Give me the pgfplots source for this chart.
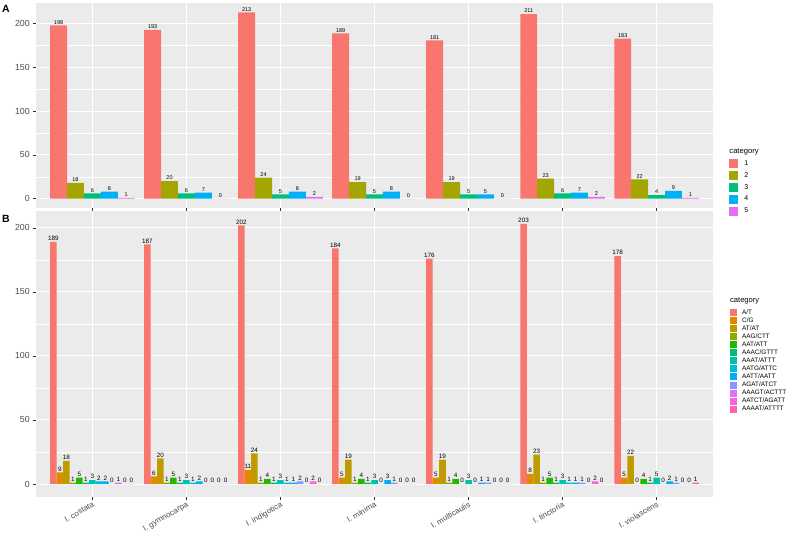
\documentclass[border=0pt]{standalone}
\usepackage{pgfplots}
\pgfplotsset{compat=1.18}
\usepackage{pgfplotstable}
\usepackage{fontspec}
\setmainfont{Liberation Sans}

% ggplot2 default look
\definecolor{panelgrey}{HTML}{EBEBEB}
\definecolor{tickgrey}{HTML}{333333}
\definecolor{labgrey}{HTML}{4D4D4D}
% five-class hue palette
\definecolor{ka}{HTML}{F8766D}
\definecolor{kb}{HTML}{A3A500}
\definecolor{kc}{HTML}{00BF7D}
\definecolor{kd}{HTML}{00B0F6}
\definecolor{ke}{HTML}{E76BF3}
% thirteen-class hue palette
\definecolor{m1}{HTML}{F8766D}
\definecolor{m2}{HTML}{E18A00}
\definecolor{m3}{HTML}{BE9C00}
\definecolor{m4}{HTML}{8CAB00}
\definecolor{m5}{HTML}{24B700}
\definecolor{m6}{HTML}{00BE70}
\definecolor{m7}{HTML}{00C1AB}
\definecolor{m8}{HTML}{00BBDA}
\definecolor{m9}{HTML}{00ACFC}
\definecolor{m10}{HTML}{8B93FF}
\definecolor{m11}{HTML}{D575FE}
\definecolor{m12}{HTML}{F962DD}
\definecolor{m13}{HTML}{FF65AC}

% SSR counts by repeat-unit length (1 = mono ... 5 = penta)
\pgfplotstableread{
x c1 c2 c3 c4 c5
1 198 18 6 8 1
2 193 20 6 7 0
3 213 24 5 8 2
4 189 19 5 8 0
5 181 19 5 5 0
6 211 23 6 7 2
7 183 22 4 9 1
}\classA

% SSR counts by repeat motif
\pgfplotstableread{
x AT CG ATAT AAG AAT AAAC AAAT AATG AATT AGAT AAAGT AATCT AAAAT
1 189 9 18 1 5 1 3 2 2 0 1 0 0
2 187 6 20 1 5 1 3 1 2 0 0 0 0
3 202 11 24 1 4 1 3 1 1 2 0 2 0
4 184 5 19 1 4 1 3 0 3 1 0 0 0
5 176 5 19 1 4 0 3 0 1 1 0 0 0
6 203 8 23 1 5 1 3 1 1 1 0 2 0
7 178 5 22 0 4 1 5 0 2 1 0 0 1
}\classB

\pgfplotsset{
  ggpanel/.style={
    scale only axis, anchor=south west,
    width=677pt,
    xmin=0.4, xmax=7.6, xtick={1,...,7},
    ytick={0,50,100,150,200}, minor ytick={25,75,125,175},
    grid=both,
    major grid style={white, line width=1pt},
    minor grid style={white, line width=0.5pt},
    axis background/.style={fill=panelgrey},
    axis line style={draw=none},
    tick pos=left, tick align=outside,
    major tick length=2.75pt, minor tick length=0pt,
    tick style={color=tickgrey, line width=0.5pt},
    yticklabel style={font=\fontsize{8.8}{10}\selectfont, text=labgrey},
    /pgf/number format/assume math mode=true,
    ybar,
    nodes near coords,
    every node near coord/.append style={text=black, inner sep=1pt},
    legend cell align=left,
  },
}

\begin{document}
\begin{tikzpicture}
\useasboundingbox (0,0) rectangle (794pt,533pt);

% ---------- A: repeat-unit length ----------
\begin{axis}[ggpanel,
  at={(36pt,325pt)}, height=205pt,
  ymin=-10.65, ymax=223.65,
  xticklabels={,,,,,,},
  bar width=0.18,
  every node near coord/.append style={font=\fontsize{5.5}{6}\selectfont},
  legend image code/.code={\fill[#1,draw=none] (0pt,-4.5pt) rectangle (9pt,4.5pt);},
  legend style={at={(1.024,0.285)}, anchor=north west, draw=none, fill=none,
    inner sep=0pt, row sep=2.85pt, font=\fontsize{7}{8}\selectfont,
    nodes={inner sep=0pt, text height=5pt, text depth=1.5pt},
    /tikz/every odd column/.append style={column sep=6pt}},
]
\addlegendimage{empty legend}
\addlegendentry{\fontsize{7.6}{9}\selectfont\hspace{-15pt}\raisebox{1pt}{category}}
\addplot[fill=ka, draw=none, bar shift=-0.36] table[x=x, y=c1] {\classA};
\addlegendentry{1}
\addplot[fill=kb, draw=none, bar shift=-0.18] table[x=x, y=c2] {\classA};
\addlegendentry{2}
\addplot[fill=kc, draw=none, bar shift=0] table[x=x, y=c3] {\classA};
\addlegendentry{3}
\addplot[fill=kd, draw=none, bar shift=0.18] table[x=x, y=c4] {\classA};
\addlegendentry{4}
\addplot[fill=ke, draw=none, bar shift=0.36] table[x=x, y=c5] {\classA};
\addlegendentry{5}
\end{axis}

% ---------- B: repeat motif ----------
\begin{axis}[ggpanel,
  at={(36pt,36pt)}, height=286pt,
  ymin=-10.15, ymax=213.15,
  xticklabels={I. costata, I. gymnocarpa, I. indigotica, I. minima,
    I. multicaulis, I. tinctoria, I. violascens},
  xticklabel style={font=\fontsize{8}{9}\selectfont, text=labgrey,
    rotate=30, anchor=north east, inner sep=1pt},
  bar width=0.0692,
  every node near coord/.append style={font=\fontsize{6.3}{7}\selectfont},
  legend image code/.code={\fill[#1,draw=none] (0pt,-3.5pt) rectangle (7pt,3.5pt);},
  legend style={at={(1.025,0.682)}, anchor=north west, draw=none, fill=none,
    inner sep=0pt, row sep=1.05pt, font=\fontsize{6.4}{7}\selectfont,
    nodes={inner sep=0pt, text height=4.6pt, text depth=1.3pt},
    /tikz/every odd column/.append style={column sep=5pt}},
]
\addlegendimage{empty legend}
\addlegendentry{\fontsize{7.6}{9}\selectfont\hspace{-12pt}\raisebox{4pt}{category}}
\addplot[fill=m1, draw=none, bar shift=-0.4154] table[x=x, y=AT] {\classB};
\addlegendentry{A/T}
\addplot[fill=m2, draw=none, bar shift=-0.3462] table[x=x, y=CG] {\classB};
\addlegendentry{C/G}
\addplot[fill=m3, draw=none, bar shift=-0.2769] table[x=x, y=ATAT] {\classB};
\addlegendentry{AT/AT}
\addplot[fill=m4, draw=none, bar shift=-0.2077] table[x=x, y=AAG] {\classB};
\addlegendentry{AAG/CTT}
\addplot[fill=m5, draw=none, bar shift=-0.1385] table[x=x, y=AAT] {\classB};
\addlegendentry{AAT/ATT}
\addplot[fill=m6, draw=none, bar shift=-0.0692] table[x=x, y=AAAC] {\classB};
\addlegendentry{AAAC/GTTT}
\addplot[fill=m7, draw=none, bar shift=0] table[x=x, y=AAAT] {\classB};
\addlegendentry{AAAT/ATTT}
\addplot[fill=m8, draw=none, bar shift=0.0692] table[x=x, y=AATG] {\classB};
\addlegendentry{AATG/ATTC}
\addplot[fill=m9, draw=none, bar shift=0.1385] table[x=x, y=AATT] {\classB};
\addlegendentry{AATT/AATT}
\addplot[fill=m10, draw=none, bar shift=0.2077] table[x=x, y=AGAT] {\classB};
\addlegendentry{AGAT/ATCT}
\addplot[fill=m11, draw=none, bar shift=0.2769] table[x=x, y=AAAGT] {\classB};
\addlegendentry{AAAGT/ACTTT}
\addplot[fill=m12, draw=none, bar shift=0.3462] table[x=x, y=AATCT] {\classB};
\addlegendentry{AATCT/AGATT}
\addplot[fill=m13, draw=none, bar shift=0.4154] table[x=x, y=AAAAT] {\classB};
\addlegendentry{AAAAT/ATTTT}
\end{axis}

% panel tags
\node[anchor=north west, inner sep=0pt, font=\bfseries\fontsize{10.5}{12}\selectfont] at (2pt,528pt) {A};
\node[anchor=north west, inner sep=0pt, font=\bfseries\fontsize{10.5}{12}\selectfont] at (2pt,318pt) {B};
\end{tikzpicture}
\end{document}
